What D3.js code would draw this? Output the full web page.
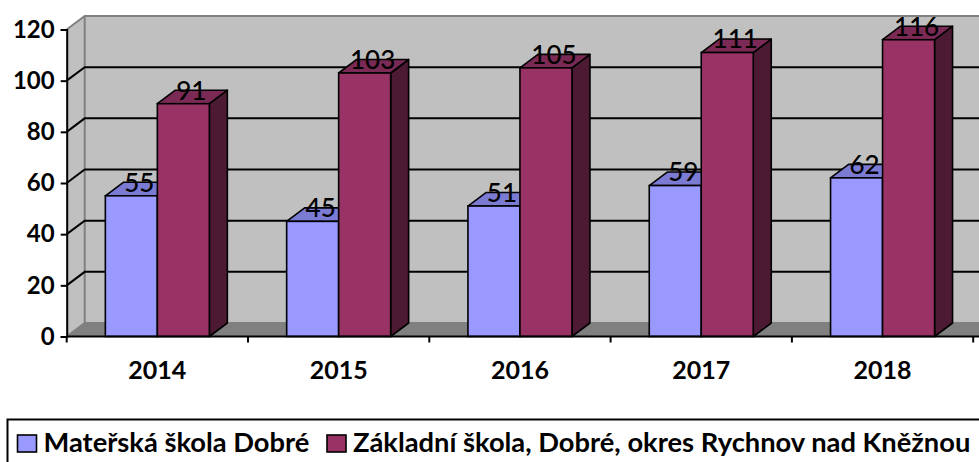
<!DOCTYPE html>
<html>
<head>
<meta charset="utf-8">
<script src="https://cdn.jsdelivr.net/npm/d3@7"></script>
<style>
  html, body { margin: 0; padding: 0; background: #fff; overflow: hidden; }
  text { font-family: Lato, "Open Sans", sans-serif; }
</style>
</head>
<body>
<div id="chart"></div>
<script>
// data
var years = ["2014", "2015", "2016", "2017", "2018"];
var seriesNames = ["Mateřská škola Dobré", "Základní škola, Dobré, okres Rychnov nad Kněžnou"];
var materska = [55, 45, 51, 59, 62];
var zakladni = [91, 103, 105, 111, 116];
var yTicks = [0, 20, 40, 60, 80, 100, 120];

var W = 979, H = 462;
var frontLeft = 66.7, frontRight = 973.2;
var depthX = 18, depthY = -13.5;   // 3d offset of the back wall

var colFront = ["#9999ff", "#993366"],
    colTop   = ["#7b7bd3", "#7a2a55"],
    colSide  = ["#5555a8", "#4c1a33"];

var svg = d3.select("#chart").append("svg")
    .attr("width", W).attr("height", H);

var y = d3.scaleLinear().domain([0, 120]).range([336.5, 29.5]);
var x = d3.scaleBand().domain(years).range([frontLeft, frontRight])
    .paddingInner(0.4264).paddingOuter(0.2132);
var xs = d3.scaleBand().domain([0, 1]).range([0, x.bandwidth()]);

// ---- walls
var yBot = y(0), yTop = y(120);
svg.append("rect")
   .attr("x", frontLeft + depthX).attr("y", yTop + depthY)
   .attr("width", W).attr("height", yBot - yTop)
   .attr("fill", "#c0c0c0");
svg.append("polygon")
   .attr("points", [[frontLeft, yTop], [frontLeft + depthX, yTop + depthY],
                    [frontLeft + depthX, yBot + depthY], [frontLeft, yBot]].join(" "))
   .attr("fill", "#c0c0c0");
// floor
svg.append("polygon")
   .attr("points", [[frontLeft, yBot], [frontLeft + depthX, yBot + depthY],
                    [W + 30, yBot + depthY], [W + 30, yBot]].join(" "))
   .attr("fill", "#808080");

// wall edges (grey)
svg.append("path")
   .attr("d", "M" + frontLeft + "," + yTop + "L" + (frontLeft + depthX) + "," + (yTop + depthY) +
              "L" + (W + 30) + "," + (yTop + depthY) +
              "M" + (frontLeft + depthX) + "," + (yTop + depthY) + "V" + (yBot + depthY) +
              "M" + frontLeft + "," + yBot + "L" + (frontLeft + depthX) + "," + (yBot + depthY) +
              "H" + (W + 30))
   .attr("fill", "none").attr("stroke", "#808080").attr("stroke-width", 2);

// gridlines
var grid = svg.append("g").attr("class", "grid");
yTicks.filter(function(d) { return d > 0 && d < 120; }).forEach(function(t) {
    grid.append("path")
        .attr("d", "M" + frontLeft + "," + y(t) + "L" + (frontLeft + depthX) + "," + (y(t) + depthY) + "H" + (W + 30))
        .attr("fill", "none").attr("stroke", "#000").attr("stroke-width", 2);
});

// ---- bars
var data = years.map(function(yr, i) { return [materska[i], zakladni[i]]; });
var bars = svg.append("g").attr("class", "bars");
data.forEach(function(pair, i) {
    pair.forEach(function(v, s) {
        var x0 = x(years[i]) + xs(s), x1 = x0 + xs.bandwidth();
        var yt = y(v), yb = y(0);
        var g = bars.append("g");
        g.append("polygon")   // side
         .attr("points", [[x1, yt], [x1 + depthX, yt + depthY], [x1 + depthX, yb + depthY], [x1, yb]].join(" "))
         .attr("fill", colSide[s]).attr("stroke", "#000").attr("stroke-width", 1.6).attr("stroke-linejoin", "round");
        g.append("polygon")   // top
         .attr("points", [[x0, yt], [x0 + depthX, yt + depthY], [x1 + depthX, yt + depthY], [x1, yt]].join(" "))
         .attr("fill", colTop[s]).attr("stroke", "#000").attr("stroke-width", 1.6).attr("stroke-linejoin", "round");
        g.append("rect")      // front
         .attr("x", x0).attr("y", yt).attr("width", x1 - x0).attr("height", yb - yt)
         .attr("fill", colFront[s]).attr("stroke", "#000").attr("stroke-width", 1.6);
    });
});

// data labels
var labels = svg.append("g").attr("class", "labels");
data.forEach(function(pair, i) {
    pair.forEach(function(v, s) {
        labels.append("text")
            .attr("x", x(years[i]) + xs(s) + xs.bandwidth() / 2 + 8)
            .attr("y", y(v) - 13.5)
            .attr("dy", "0.36em")
            .attr("text-anchor", "middle")
            .attr("font-size", 26)
            .attr("font-weight", 500)
            .attr("fill", "#000")
            .text(v);
    });
});

// ---- axes
var yAxis = d3.axisLeft(y).tickValues(yTicks).tickSize(6).tickPadding(6);
svg.append("g").attr("class", "y axis")
   .attr("transform", "translate(" + frontLeft + ",0)")
   .call(yAxis)
   .call(function(g) {
       g.selectAll("path, line").attr("stroke", "#000").attr("stroke-width", 2);
       g.selectAll("text").attr("font-size", 24).attr("font-weight", "bold")
        .attr("fill", "#000").attr("font-family", "Lato, sans-serif");
   });

var xEdge = d3.scaleLinear().domain([0, years.length]).range([frontLeft, frontRight]);
var xAx = svg.append("g").attr("class", "x axis");
xAx.append("line")
   .attr("x1", frontLeft).attr("x2", W + 10).attr("y1", yBot).attr("y2", yBot)
   .attr("stroke", "#000").attr("stroke-width", 2);
d3.range(years.length + 1).forEach(function(k) {
    xAx.append("line")
       .attr("x1", xEdge(k)).attr("x2", xEdge(k)).attr("y1", yBot).attr("y2", yBot + 6)
       .attr("stroke", "#000").attr("stroke-width", 2);
});
xAx.selectAll(".lbl").data(years).enter().append("text")
   .attr("x", function(d) { return x(d) + x.bandwidth() / 2; })
   .attr("y", 378.5)
   .attr("text-anchor", "middle")
   .attr("font-size", 25).attr("font-weight", "bold")
   .text(function(d) { return d; });

// ---- legend
var leg = svg.append("g").attr("class", "legend");
leg.append("rect")
   .attr("x", 7.5).attr("y", 419.5).attr("width", 1000).attr("height", 80)
   .attr("fill", "#fff").attr("stroke", "#000").attr("stroke-width", 2);
var legX = [17.5, 327];
seriesNames.forEach(function(name, s) {
    leg.append("rect")
       .attr("x", legX[s]).attr("y", 435).attr("width", 19).attr("height", 17)
       .attr("fill", colFront[s]).attr("stroke", "#000").attr("stroke-width", 1.6);
    leg.append("text")
       .attr("x", legX[s] + 26).attr("y", 451.5)
       .attr("font-size", 27.3).attr("font-weight", "bold")
       .text(name);
});
</script>
</body>
</html>
